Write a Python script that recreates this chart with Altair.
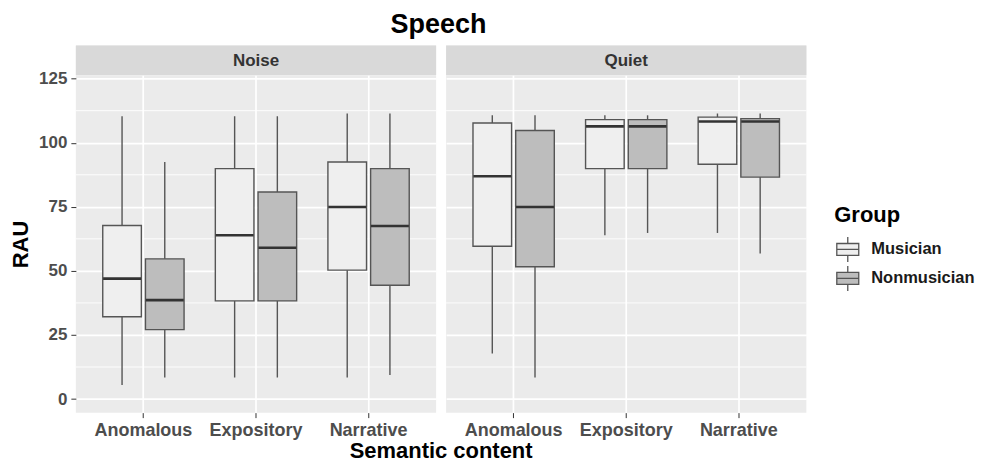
import altair as alt
import pandas as pd

content = ["Anomalous", "Expository", "Narrative"]
conditions = ["Noise", "Quiet"]
groups = ["Musician", "Nonmusician"]

# Noise
noise_mus_min = [5.5, 8.4, 8.4]
noise_mus_q1 = [32.1, 38.3, 50.3]
noise_mus_med = [47.0, 63.9, 74.9]
noise_mus_q3 = [67.7, 89.9, 92.5]
noise_mus_max = [110.3, 110.3, 111.4]

noise_non_min = [8.4, 8.4, 9.4]
noise_non_q1 = [27.1, 38.3, 44.4]
noise_non_med = [38.6, 59.0, 67.5]
noise_non_q3 = [54.7, 80.8, 89.9]
noise_non_max = [92.5, 110.3, 111.4]

# Quiet
quiet_mus_min = [17.8, 63.9, 64.8]
quiet_mus_q1 = [59.6, 89.9, 91.6]
quiet_mus_med = [86.9, 106.4, 108.3]
quiet_mus_q3 = [107.7, 109.0, 110.0]
quiet_mus_max = [110.7, 110.7, 111.4]

quiet_non_min = [8.4, 64.8, 56.8]
quiet_non_q1 = [51.6, 89.9, 86.6]
quiet_non_med = [74.9, 106.4, 108.3]
quiet_non_q3 = [104.8, 109.0, 109.4]
quiet_non_max = [110.7, 110.7, 111.4]

y_major = [0, 25, 50, 75, 100, 125]
y_minor = [12.5, 37.5, 62.5, 87.5, 112.5]

series = {
    ("Noise", "Musician"): (noise_mus_min, noise_mus_q1, noise_mus_med, noise_mus_q3, noise_mus_max),
    ("Noise", "Nonmusician"): (noise_non_min, noise_non_q1, noise_non_med, noise_non_q3, noise_non_max),
    ("Quiet", "Musician"): (quiet_mus_min, quiet_mus_q1, quiet_mus_med, quiet_mus_q3, quiet_mus_max),
    ("Quiet", "Nonmusician"): (quiet_non_min, quiet_non_q1, quiet_non_med, quiet_non_q3, quiet_non_max),
}

rows = []
for (cond, grp), (mn, q1, md, q3, mx) in series.items():
    for i, c in enumerate(content):
        rows.append(dict(cond=cond, group=grp, content=c, lo=mn[i], q1=q1[i],
                         med=md[i], q3=q3[i], hi=mx[i]))
df = pd.DataFrame(rows)
minor_df = pd.DataFrame({"v": y_minor})

FONT = "Liberation Sans"
PW, PH, SH = 361, 338, 30
YDOM = [-5.3, 126.3]


def y_axis(show):
    kw = dict(
        values=y_major,
        grid=True,
        gridColor="white",
        gridWidth=1.7,
        domain=False,
        labelOverlap=False,
    )
    if show:
        kw.update(
            tickColor="#333333",
            tickSize=5,
            labelFont=FONT,
            labelFontSize=17,
            labelFontWeight="bold",
            labelColor="#4d4d4d",
            labelPadding=4,
            title="RAU",
            titleFont=FONT,
            titleFontSize=22,
            titleFontWeight="bold",
            titleColor="black",
            titlePadding=6,
        )
    else:
        kw.update(labels=False, ticks=False, title=None)
    return alt.Axis(**kw)


def panel(cond, show_y):
    d = df[df.cond == cond]
    base = alt.Chart(d)
    x = alt.X(
        "content:N",
        sort=content,
        scale=alt.Scale(paddingInner=0, paddingOuter=0.1),
        axis=alt.Axis(
            title=None,
            bandPosition=0.5,
            grid=True,
            gridColor="white",
            gridWidth=1.7,
            domain=False,
            tickColor="#333333",
            tickSize=5,
            labelAngle=0,
            labelFont=FONT,
            labelFontSize=18,
            labelFontWeight="bold",
            labelColor="#4d4d4d",
            labelPadding=4,
        ),
    )
    xo = alt.XOffset("group:N", sort=groups,
                     scale=alt.Scale(paddingInner=0.096, paddingOuter=0.366))
    yscale = alt.Scale(domain=YDOM, nice=False, zero=False)
    minor = alt.Chart(minor_df).mark_rule(color="white", strokeWidth=0.9).encode(
        y=alt.Y("v:Q", scale=yscale, axis=y_axis(show_y))
    )
    whisk = base.mark_rule(color="#555555", strokeWidth=1.4).encode(
        x=x, xOffset=xo,
        y=alt.Y("lo:Q", scale=yscale),
        y2="hi:Q",
    )
    box = base.mark_bar(stroke="#555555", strokeWidth=1.4, opacity=1).encode(
        x=x, xOffset=xo,
        y=alt.Y("q1:Q", scale=yscale),
        y2="q3:Q",
        color=alt.Color(
            "group:N",
            scale=alt.Scale(domain=groups, range=["#efefef", "#bdbdbd"]),
            legend=alt.Legend(
                title="Group",
                titleFont=FONT,
                titleFontSize=22,
                titleFontWeight="bold",
                titleColor="black",
                titlePadding=9,
                labelFont=FONT,
                labelFontSize=16.5,
                labelFontWeight="bold",
                labelColor="#1a1a1a",
                labelOffset=10,
                symbolType="M-0.88,-0.48H0.88V0.48H-0.88Z M0,-0.48V-1 M0,0.48V1 M-0.88,0H0.88",
                symbolSize=625,
                symbolStrokeColor="#555555",
                symbolStrokeWidth=1.3,
                symbolOpacity=1,
                rowPadding=-2,
                orient="none",
                legendX=760,
                legendY=160,
            ),
        ),
    )
    med = base.mark_tick(color="#333333", thickness=2.6, size=38, opacity=1).encode(
        x=x, xOffset=xo, y=alt.Y("med:Q", scale=yscale)
    )
    plot = alt.layer(minor, whisk, box, med).properties(width=PW, height=PH)

    strip_df = pd.DataFrame({"cond": [cond]})
    strip_base = alt.Chart(strip_df)
    rect = strip_base.mark_rect(color="#d9d9d9", opacity=1).encode(
        x=alt.value(0), x2=alt.value(PW), y=alt.value(0), y2=alt.value(SH)
    )
    txt = strip_base.mark_text(
        font=FONT, fontSize=17, fontWeight="bold", color="#333333", baseline="middle"
    ).encode(text="cond:N", x=alt.value(PW / 2), y=alt.value(SH / 2 + 1))
    strip = alt.layer(rect, txt).properties(width=PW, height=SH)
    return alt.vconcat(strip, plot, spacing=0, bounds="flush")


row = alt.hconcat(panel("Noise", True), panel("Quiet", False), spacing=8).properties(
    title=alt.Title(
        "Semantic content",
        orient="bottom",
        anchor="middle",
        font=FONT,
        fontSize=22,
        fontWeight="bold",
        color="black",
        offset=1,
        dx=33,
    )
)

chart = alt.vconcat(row).properties(
    title=alt.Title("Speech", anchor="middle", font=FONT, fontSize=27,
                    fontWeight="bold", color="black", offset=6, dx=-54)
).configure(
    padding={"left": 1, "top": 3, "right": 5, "bottom": 0},
    view=alt.ViewConfig(fill="#ebebeb", stroke=None),
)

chart.save("out.html", embed_options={"renderer": "svg", "actions": False})
